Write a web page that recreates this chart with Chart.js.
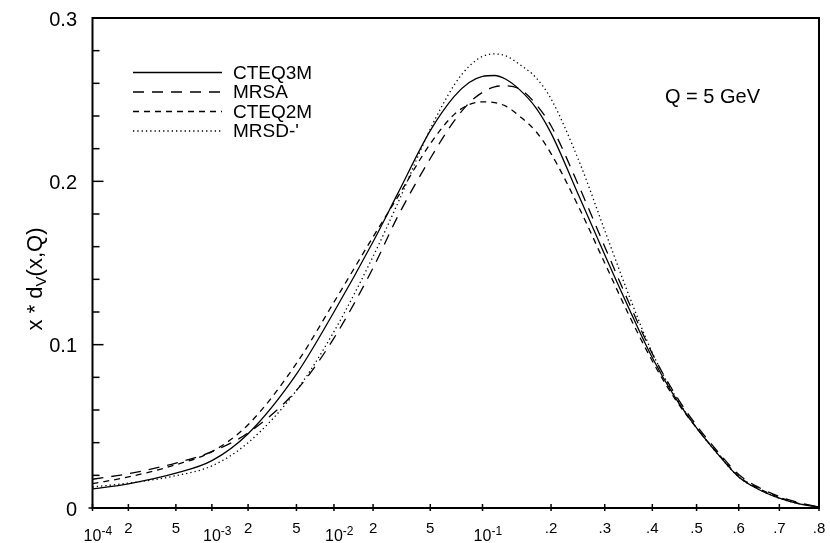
<!DOCTYPE html>
<html>
<head>
<meta charset="utf-8">
<script src="https://cdn.jsdelivr.net/npm/chart.js@4.4.1/dist/chart.umd.min.js"></script>
<style>
  html, body { margin: 0; padding: 0; background: #fff; }
  #wrap { width: 830px; height: 543px; }
</style>
</head>
<body>
<div id="wrap"><canvas id="pdfChart"></canvas></div>
<script>
// x values shared by all four curves
const xValues = [0.0001, 0.0002, 0.0005, 0.001, 0.002, 0.005, 0.01, 0.02, 0.03, 0.05, 0.07, 0.085,
                 0.1, 0.115, 0.13, 0.15, 0.175, 0.2, 0.25, 0.3, 0.35, 0.4, 0.45, 0.5, 0.55, 0.6, 0.65, 0.7, 0.75, 0.8];

// x * d_v(x,Q), Q = 5 GeV
const cteq3m = [0.0116, 0.0148, 0.0213, 0.0290, 0.0455, 0.0820, 0.1200, 0.1630, 0.1920, 0.2310, 0.2520, 0.2605,
                0.2642, 0.2648, 0.2625, 0.2560, 0.2450, 0.2295, 0.1910, 0.1550, 0.1220, 0.0920, 0.0680, 0.0490,
                0.0330, 0.0190, 0.0112, 0.0060, 0.0025, 0.0005];
const mrsa   = [0.0176, 0.0210, 0.0275, 0.0345, 0.0460, 0.0720, 0.1040, 0.1470, 0.1780, 0.2140, 0.2370, 0.2480,
                0.2545, 0.2578, 0.2585, 0.2565, 0.2472, 0.2340, 0.1970, 0.1600, 0.1255, 0.0945, 0.0700, 0.0505,
                0.0345, 0.0205, 0.0125, 0.0070, 0.0032, 0.0007];
const cteq2m = [0.0149, 0.0190, 0.0265, 0.0345, 0.0510, 0.0885, 0.1260, 0.1660, 0.1900, 0.2230, 0.2410, 0.2470,
                0.2487, 0.2482, 0.2460, 0.2398, 0.2305, 0.2170, 0.1840, 0.1500, 0.1180, 0.0900, 0.0670, 0.0490,
                0.0335, 0.0195, 0.0118, 0.0065, 0.0028, 0.0006];
const mrsd   = [0.0129, 0.0152, 0.0198, 0.0258, 0.0400, 0.0720, 0.1080, 0.1540, 0.1860, 0.2320, 0.2590, 0.2705,
                0.2765, 0.2780, 0.2768, 0.2715, 0.2635, 0.2505, 0.2125, 0.1700, 0.1300, 0.0950, 0.0690, 0.0490,
                0.0330, 0.0190, 0.0112, 0.0060, 0.0026, 0.0005];

const seriesNames = ['CTEQ3M', 'MRSA', 'CTEQ2M', "MRSD-'"];
const seriesDash = [[], [11, 8], [6, 5], [1.3, 3]];

const xTickValues = [0.0001, 0.0002, 0.0005, 0.001, 0.002, 0.005, 0.01, 0.02, 0.05, 0.1,
                     0.2, 0.3, 0.4, 0.5, 0.6, 0.7, 0.8];
const xTickLabels = ['10^-4', '2', '5', '10^-3', '2', '5', '10^-2', '2', '5', '10^-1',
                     '.2', '.3', '.4', '.5', '.6', '.7', '.8'];
const yTickValues = [0, 0.1, 0.2, 0.3];
const yTickLabels = ['0', '0.1', '0.2', '0.3'];

const FONT = '"Liberation Sans", Arial, sans-serif';

// log scale that turns linear at large x: log10(x) + k*x
const LIN_FACTOR = 2.746;
function warp(v) {
    return Math.log10(v) + LIN_FACTOR * v;
}

class MixedLogScale extends Chart.Scale {
    static id = 'mixedlog';
    static defaults = {};

    determineDataLimits() {
        this.min = this.options.min;
        this.max = this.options.max;
    }
    buildTicks() {
        return xTickValues.map(v => ({ value: v }));
    }
    configure() {
        super.configure();
        this._start = warp(this.min);
        this._span = warp(this.max) - this._start;
    }
    getLabelForValue(value) {
        return String(value);
    }
    getPixelForValue(value) {
        return this.getPixelForDecimal((warp(value) - this._start) / this._span);
    }
    getValueForPixel(pixel) {
        const t = this.getDecimalForPixel(pixel);
        let lo = this.min, hi = this.max;
        for (let i = 0; i < 60; i++) {
            const mid = (lo + hi) / 2;
            if ((warp(mid) - this._start) / this._span < t) lo = mid; else hi = mid;
        }
        return lo;
    }
}
Chart.register(MixedLogScale);

function toPoints(ys) {
    return xValues.map((x, i) => ({ x: x, y: ys[i] }));
}

function isMajor(v) {
    return Math.abs(v * 10 - Math.round(v * 10)) < 1e-6;
}

// frame, inward ticks, labels with superscripts, legend and annotation
const decorations = {
    id: 'decorations',
    afterDraw(chart) {
        const { ctx, chartArea: a, scales: { x, y } } = chart;
        ctx.save();
        ctx.strokeStyle = '#000';
        ctx.fillStyle = '#000';
        ctx.setLineDash([]);

        ctx.lineWidth = 2;
        ctx.strokeRect(a.left, a.top, a.right - a.left, a.bottom - a.top);

        ctx.lineWidth = 1.5;
        y.ticks.forEach(t => {
            const py = y.getPixelForValue(t.value);
            ctx.beginPath();
            ctx.moveTo(a.left - (t.value === 0 ? 4 : 0), py);
            ctx.lineTo(a.left + (isMajor(t.value) ? 11 : 7), py);
            ctx.stroke();
        });
        x.ticks.forEach(t => {
            const px = x.getPixelForValue(t.value);
            ctx.beginPath();
            ctx.moveTo(px, a.bottom - 4);
            ctx.lineTo(px, a.bottom + 3);
            ctx.stroke();
        });

        // y labels
        ctx.font = '20px ' + FONT;
        ctx.textAlign = 'right';
        ctx.textBaseline = 'middle';
        yTickValues.forEach((v, i) => {
            ctx.fillText(yTickLabels[i], 77, y.getPixelForValue(v) + 2);
        });

        // x labels
        ctx.textBaseline = 'alphabetic';
        xTickValues.forEach((v, i) => {
            const px = x.getPixelForValue(v);
            const label = xTickLabels[i];
            if (label.includes('^')) {
                const [base, exp] = label.split('^');
                ctx.font = '16px ' + FONT;
                const w = ctx.measureText(base).width;
                ctx.textAlign = 'left';
                ctx.fillText(base, px - w / 2, 541);
                ctx.font = '12px ' + FONT;
                ctx.fillText(exp, px + w / 2, 535);
            } else {
                ctx.font = '15px ' + FONT;
                ctx.textAlign = 'center';
                ctx.fillText(label, px, 533);
            }
        });

        // y title  x * d_V(x,Q)
        ctx.save();
        ctx.translate(36, 279);
        ctx.rotate(-Math.PI / 2);
        const parts = [['x * d', 22, 0], ['V', 15, 6], ['(x,Q)', 22, 0]];
        let total = 0;
        parts.forEach(p => { ctx.font = p[1] + 'px ' + FONT; total += ctx.measureText(p[0]).width; });
        let cx = -total / 2;
        ctx.textAlign = 'left';
        ctx.textBaseline = 'middle';
        parts.forEach(p => {
            ctx.font = p[1] + 'px ' + FONT;
            ctx.fillText(p[0], cx, p[2]);
            cx += ctx.measureText(p[0]).width;
        });
        ctx.restore();

        // legend
        const rowY = [72.5, 92, 111.5, 131];
        chart.data.datasets.forEach((ds, i) => {
            ctx.lineWidth = ds.borderWidth;
            ctx.setLineDash(ds.borderDash);
            ctx.beginPath();
            ctx.moveTo(133, rowY[i]);
            ctx.lineTo(222, rowY[i]);
            ctx.stroke();
            ctx.setLineDash([]);
            ctx.font = '19px ' + FONT;
            ctx.textAlign = 'left';
            ctx.textBaseline = 'middle';
            ctx.fillText(ds.label, 233, rowY[i] + 1);
        });

        ctx.font = '20px ' + FONT;
        ctx.fillText('Q = 5 GeV', 665, 97);
        ctx.restore();
    }
};

const seriesValues = [cteq3m, mrsa, cteq2m, mrsd];

new Chart(document.getElementById('pdfChart').getContext('2d'), {
    type: 'line',
    data: {
        datasets: seriesValues.map((vals, i) => ({
            label: seriesNames[i],
            data: toPoints(vals),
            borderColor: '#000',
            borderWidth: 1.3,
            borderDash: seriesDash[i],
            pointRadius: 0,
            fill: false,
            cubicInterpolationMode: 'monotone'
        }))
    },
    options: {
        responsive: true,
        maintainAspectRatio: false,
        animation: false,
        devicePixelRatio: 1,
        layout: { padding: { top: 18, right: 11, left: 0, bottom: 0 } },
        plugins: {
            legend: { display: false },
            tooltip: { enabled: false }
        },
        scales: {
            x: {
                type: 'mixedlog',
                min: 0.0001,
                max: 0.8,
                grid: { display: false, drawTicks: false },
                border: { display: false },
                ticks: { display: false },
                afterFit: (scale) => { scale.height = 35; }
            },
            y: {
                type: 'linear',
                min: 0,
                max: 0.3,
                grid: { display: false, drawTicks: false },
                border: { display: false },
                ticks: { display: false, stepSize: 0.02, autoSkip: false },
                afterFit: (scale) => { scale.width = 92.5; }
            }
        }
    },
    plugins: [decorations]
});
</script>
</body>
</html>
